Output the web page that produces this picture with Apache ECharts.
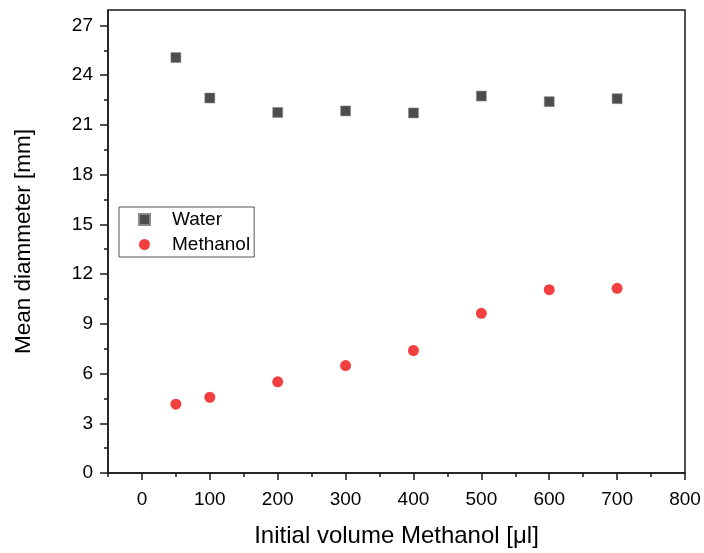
<!DOCTYPE html>
<html><head><meta charset="utf-8">
<script src="https://cdn.jsdelivr.net/npm/echarts@6/dist/echarts.min.js"></script>
<style>html,body{margin:0;padding:0;background:#fff}#c{width:704px;height:553px}</style>
</head><body><div id="c"></div>
<script>
const xValues = [50, 100, 200, 300, 400, 500, 600, 700];
const waterValues = [25.06, 22.62, 21.75, 21.84, 21.72, 22.74, 22.40, 22.58];
const methanolValues = [4.15, 4.57, 5.50, 6.48, 7.39, 9.63, 11.06, 11.14];
const xTicks = [0, 100, 200, 300, 400, 500, 600, 700, 800];
const xMinorTicks = [-50, 50, 150, 250, 350, 450, 550, 650, 750];
const yTicks = [0, 3, 6, 9, 12, 15, 18, 21, 24, 27];
const yMinorTicks = [1.5, 4.5, 7.5, 10.5, 13.5, 16.5, 19.5, 22.5, 25.5];

const font = 'Arial, "Liberation Sans", sans-serif';
const axisColor = '#1a1a1a';
const chart = echarts.init(document.getElementById('c'), null, {renderer: 'canvas'});
const xRange = {min: -50, max: 800};
const yRange = {min: 0, max: 27.93};

chart.setOption({
  backgroundColor: '#fff',
  animation: false,
  textStyle: {fontFamily: font},
  grid: {left: 108, right: 19, top: 10, bottom: 79, show: true, borderColor: axisColor, borderWidth: 1.5, containLabel: false},
  legend: {
    orient: 'vertical', left: 119, top: 207,
    data: [{name: 'Water', icon: 'rect'}, {name: 'Methanol', icon: 'circle'}],
    borderColor: '#555', borderWidth: 1, padding: [3, 4, 3, 19],
    itemWidth: 11, itemHeight: 11, itemGap: 6,
    textStyle: {fontSize: 19, color: '#000', fontFamily: font, padding: [0, 0, 0, 17]}
  },
  xAxis: [{
    type: 'value', ...xRange,
    name: 'Initial volume Methanol [\u03bcl]', nameLocation: 'middle', nameGap: 51,
    nameTextStyle: {fontSize: 24, color: '#000', fontFamily: font},
    axisLine: {show: true, onZero: false, lineStyle: {color: axisColor, width: 1.5}},
    axisTick: {show: true, customValues: xTicks, length: 7, lineStyle: {color: axisColor, width: 1.5}},
    axisLabel: {show: true, customValues: xTicks, fontSize: 19, color: '#000', margin: 17, fontFamily: font},
    splitLine: {show: false}
  }, {
    type: 'value', ...xRange, position: 'bottom', gridIndex: 0,
    axisLine: {show: false, onZero: false},
    axisTick: {show: true, customValues: xMinorTicks, length: 4, lineStyle: {color: axisColor, width: 1.5}},
    axisLabel: {show: false}, splitLine: {show: false}
  }],
  yAxis: [{
    type: 'value', ...yRange,
    name: 'Mean diammeter [mm]', nameLocation: 'middle', nameGap: 73,
    nameTextStyle: {fontSize: 22.5, color: '#000', fontFamily: font},
    axisLine: {show: true, onZero: false, lineStyle: {color: axisColor, width: 1.5}},
    axisTick: {show: true, customValues: yTicks, length: 8, lineStyle: {color: axisColor, width: 1.5}},
    axisLabel: {show: true, customValues: yTicks, fontSize: 19, color: '#000', margin: 15, fontFamily: font},
    splitLine: {show: false}
  }, {
    type: 'value', ...yRange, position: 'left',
    axisLine: {show: false, onZero: false},
    axisTick: {show: true, customValues: yMinorTicks, length: 4, lineStyle: {color: axisColor, width: 1.5}},
    axisLabel: {show: false}, splitLine: {show: false}
  }],
  series: [{
    name: 'Water', type: 'scatter', symbol: 'rect', symbolSize: 10,
    itemStyle: {color: '#4d4d4d', opacity: 1, borderColor: '#8a8a8a', borderWidth: 0.5},
    data: xValues.map((x, i) => [x, waterValues[i]])
  }, {
    name: 'Methanol', type: 'scatter', symbol: 'circle', symbolSize: 11,
    itemStyle: {color: '#f24040', opacity: 1},
    data: xValues.map((x, i) => [x, methanolValues[i]])
  }]
});
</script></body></html>
